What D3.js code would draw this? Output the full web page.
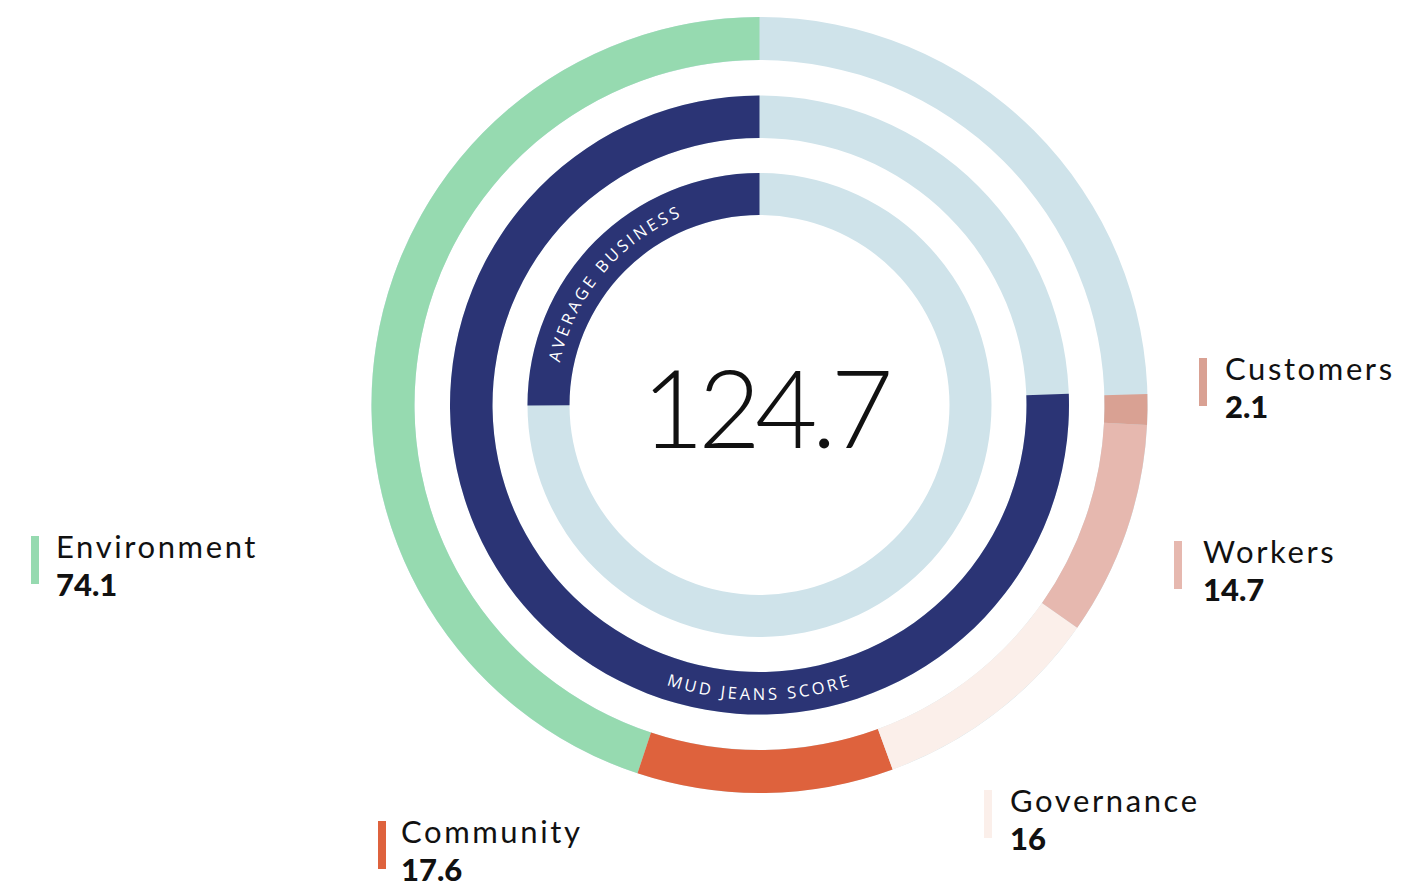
<!DOCTYPE html>
<html>
<head>
<meta charset="utf-8">
<script src="https://cdn.jsdelivr.net/npm/d3@7"></script>
<style>
  html, body { margin: 0; padding: 0; background: #fff; }
  svg { display: block; }
</style>
</head>
<body>
<div id="chart"></div>
<script>
// data
const categories = ["Environment", "Community", "Governance", "Workers", "Customers"];
const categoryScores = [74.1, 17.6, 16, 14.7, 2.1];
const categoryColors = ["#96dab0", "#de623d", "#fbefea", "#e6b8af", "#d9a193"];
const totalScore = 124.7;
const averageBusiness = 41.3;
const scaleMax = 165; // score that would fill the whole circle

// label anchors (layout only)
const labelPos = [
  { x: 31, y: 558, dx: 25 },
  { x: 378, y: 843, dx: 23 },
  { x: 984, y: 812, dx: 26 },
  { x: 1174, y: 563, dx: 29 },
  { x: 1199, y: 380, dx: 26 }
];

const width = 1404, height = 889;
const cx = 759.5, cy = 405;
const rings = {
  outer: [345, 388],
  middle: [267, 309.5],
  inner: [190, 232]
};
const bgColor = "#cfe3ea";
const navy = "#2b3475";

const svg = d3.select("#chart").append("svg")
  .attr("width", width)
  .attr("height", height);

const g = svg.append("g").attr("transform", `translate(${cx},${cy})`);

// angles run counter-clockwise from 12 o'clock
const angle = d3.scaleLinear().domain([0, scaleMax]).range([0, -2 * Math.PI]);

const arc = d3.arc();

// background rings
Object.values(rings).forEach(r => {
  g.append("path")
    .attr("d", arc({ innerRadius: r[0], outerRadius: r[1], startAngle: 0, endAngle: 2 * Math.PI }))
    .attr("fill", bgColor);
});

// outer ring: breakdown by category
const pie = d3.pie().sort(null).value(d => d)
  .startAngle(0)
  .endAngle(angle(d3.sum(categoryScores)));

g.selectAll(".cat")
  .data(pie(categoryScores))
  .join("path")
  .attr("class", "cat")
  .attr("d", d => arc({ innerRadius: rings.outer[0], outerRadius: rings.outer[1], startAngle: d.startAngle, endAngle: d.endAngle }))
  .attr("fill", (d, i) => categoryColors[i]);

// middle ring: total score
g.append("path")
  .attr("d", arc({ innerRadius: rings.middle[0], outerRadius: rings.middle[1], startAngle: 0, endAngle: angle(totalScore) }))
  .attr("fill", navy);

// inner ring: average business
g.append("path")
  .attr("d", arc({ innerRadius: rings.inner[0], outerRadius: rings.inner[1], startAngle: 0, endAngle: angle(averageBusiness) }))
  .attr("fill", navy);

// curved labels
function pt(r, deg) {
  const a = deg * Math.PI / 180;
  return [r * Math.sin(a), -r * Math.cos(a)];
}
function arcPath(r, a0, a1, sweep) {
  const p0 = pt(r, a0), p1 = pt(r, a1);
  return `M${p0[0]},${p0[1]} A${r},${r} 0 0 ${sweep} ${p1[0]},${p1[1]}`;
}
const defs = svg.append("defs");
defs.append("path").attr("id", "avgPath").attr("d", arcPath(204, 259, 361, 1));
defs.append("path").attr("id", "scorePath").attr("d", arcPath(295, 230, 130, 0));

[["avgPath", "AVERAGE BUSINESS"], ["scorePath", "MUD JEANS SCORE"]].forEach(([id, txt]) => {
  g.append("text")
    .attr("font-family", "'Open Sans', sans-serif")
    .attr("font-size", 16.5)
    .attr("letter-spacing", 3)
    .attr("fill", "#fff")
    .append("textPath")
    .attr("href", "#" + id)
    .attr("startOffset", "50%")
    .attr("text-anchor", "middle")
    .text(txt);
});

// center number
g.append("text")
  .attr("x", 5)
  .attr("y", 43)
  .attr("text-anchor", "middle")
  .attr("font-family", "Lato, sans-serif")
  .attr("font-weight", 300)
  .attr("font-size", 108)
  .attr("letter-spacing", -6)
  .attr("fill", "#111")
  .text(d3.format(".1f")(totalScore));

// side labels
const labels = svg.selectAll(".label")
  .data(categories)
  .join("g")
  .attr("class", "label")
  .attr("transform", (d, i) => `translate(${labelPos[i].x},${labelPos[i].y})`);

labels.append("rect")
  .attr("x", 0)
  .attr("y", -22)
  .attr("width", 8)
  .attr("height", 48)
  .attr("fill", (d, i) => categoryColors[i]);

labels.append("text")
  .attr("x", (d, i) => labelPos[i].dx)
  .attr("y", 0)
  .attr("font-family", "Lato, sans-serif")
  .attr("font-size", 31)
  .attr("letter-spacing", 2.6)
  .attr("fill", "#111")
  .text(d => d);

labels.append("text")
  .attr("x", (d, i) => labelPos[i].dx)
  .attr("y", 38)
  .attr("font-family", "Lato, sans-serif")
  .attr("font-weight", 900)
  .attr("font-size", 31)
  .attr("fill", "#111")
  .text((d, i) => categoryScores[i]);
</script>
</body>
</html>
